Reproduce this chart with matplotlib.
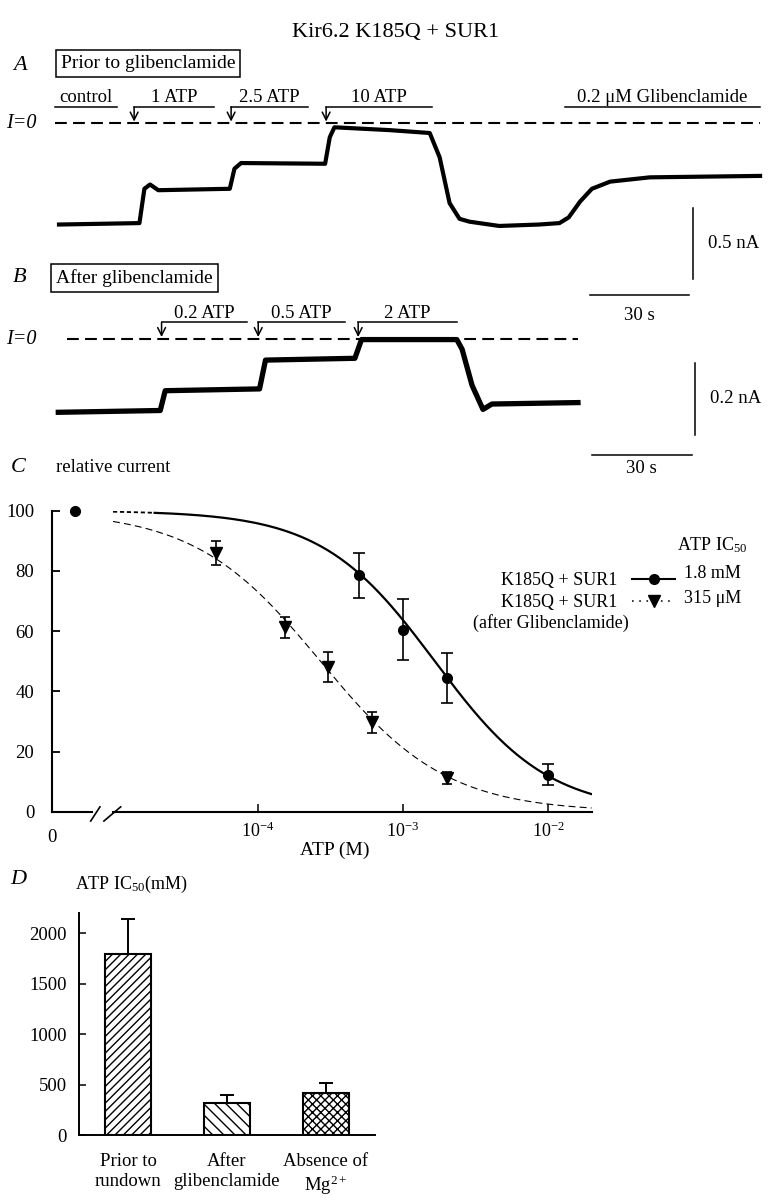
import numpy as np
import matplotlib
matplotlib.use('Agg')
import matplotlib.pyplot as plt
from matplotlib.lines import Line2D

plt.rcParams['font.family'] = 'Liberation Serif'
plt.rcParams['mathtext.fontset'] = 'custom'
plt.rcParams['mathtext.rm'] = 'Liberation Serif'
plt.rcParams['mathtext.it'] = 'Liberation Serif:italic'
plt.rcParams['lines.scale_dashes'] = False
plt.rcParams['hatch.linewidth'] = 1.0

# ---------------- data ----------------
# panel A: current trace (time s, current nA), prior to glibenclamide
trace_a_t = [0, 24.3, 25.8, 27.5, 30, 51.6, 53.0, 55.0, 80.4, 81.8, 83.2, 100, 112.0, 115.0,
             118.0, 121.0, 124.0, 133, 145, 151.2, 154, 157.4, 161, 166.5, 178.5, 211.8]
trace_a_i = [-0.71, -0.70, -0.46, -0.43, -0.47, -0.46, -0.32, -0.28, -0.285, -0.10, -0.03, -0.05,
             -0.07, -0.24, -0.56, -0.67, -0.69, -0.72, -0.71, -0.70, -0.66, -0.55, -0.46, -0.41,
             -0.38, -0.37]
sol_a_names = ['1 ATP', '2.5 ATP', '10 ATP']
sol_a_on = [22.7, 52.0, 80.7]
sol_a_off = [46.8, 75.2, 112.7]
ctrl_a = (-1.2, 17.5)
glib_a = (152.9, 211.8)

# panel B: current trace after glibenclamide
trace_b_t = [0, 30.8, 32.3, 60.8, 62.6, 89.6, 91.6, 120.4, 122, 125, 128.3, 131, 157]
trace_b_i = [-0.205, -0.20, -0.145, -0.14, -0.06, -0.055, -0.003, -0.003, -0.03, -0.13,
             -0.197, -0.182, -0.178]
sol_b_names = ['0.2 ATP', '0.5 ATP', '2 ATP']
sol_b_on = [31.2, 60.4, 90.6]
sol_b_off = [56.9, 86.6, 120.4]

scale_t = 30      # s
scale_a = 0.5     # nA
scale_b = 0.2     # nA

# panel C: dose response
atp_ctrl = 100
atp_c1 = [5e-4, 1e-3, 2e-3, 1e-2]
rel_c1 = [78.5, 60.5, 44.6, 12.4]
err_c1 = [7.5, 10.2, 8.3, 3.5]
atp_c2 = [5.1e-5, 1.53e-4, 3.05e-4, 6.1e-4, 2e-3]
rel_c2 = [86.0, 61.3, 48.2, 29.8, 11.3]
err_c2 = [4.0, 3.5, 4.9, 3.5, 2.1]
fit1_ic50, fit1_h = 1.66e-3, 1.11
fit2_ic50, fit2_h = 2.7e-4, 1.0

# panel D: IC50 bars (uM)
d_labels = ['Prior to\nrundown', 'After\nglibenclamide', 'Absence of\nMg$^{2+}$']
d_values = [1795, 315, 420]
d_errors = [345, 83, 93]
d_hatches = ['////', '\\\\\\', 'xxxx']

# ---------------- figure ----------------
W, H = 778, 1200
fig = plt.figure(figsize=(W / 100, H / 100), dpi=100)


def px_axes(x0, y0, x1, y1):
    return fig.add_axes([x0 / W, 1 - y1 / H, (x1 - x0) / W, (y1 - y0) / H])


def ftext(x, y, s, **kw):
    return fig.text(x / W, 1 - y / H, s, **kw)


def trace_axes(box, t0px, i0px, pps, ppn):
    x0, y0, x1, y1 = box
    ax = px_axes(*box)
    ax.set_xlim((x0 - t0px) / pps, (x1 - t0px) / pps)
    ax.set_ylim((i0px - y1) / ppn, (i0px - y0) / ppn)
    ax.axis('off')
    return ax


def solutions(ax, names, ons, offs, bar_i, tip_i, fs=13.5):
    for name, on, off in zip(names, ons, offs):
        ax.plot([on, off], [bar_i, bar_i], color='k', lw=1.1)
        ax.annotate('', xy=(on, tip_i), xytext=(on, bar_i),
                    arrowprops=dict(arrowstyle='->', lw=1.1, color='k', mutation_scale=14,
                                    shrinkA=0, shrinkB=0))
        ax.annotate(name, ((on + off) / 2, bar_i), xytext=(0, 0.5), textcoords='offset points',
                    ha='center', va='bottom', fontsize=fs)


ftext(396, 32, 'Kir6.2 K185Q + SUR1', ha='center', va='center', fontsize=16)

# ---- panel A
axA = trace_axes((0, 80, 778, 300), 59, 123, 3.31, 143)
axA.plot(trace_a_t, trace_a_i, color='k', lw=3.0, solid_joinstyle='round')
axA.plot([ctrl_a[0], glib_a[1]], [0, 0], color='k', lw=1.5, dashes=(8.5, 4.5))
solutions(axA, sol_a_names, sol_a_on, sol_a_off, 0.112, 0.01)
axA.plot(ctrl_a, [0.112, 0.112], color='k', lw=1.1)
axA.annotate('control', (sum(ctrl_a) / 2, 0.112), xytext=(0, 0.5), textcoords='offset points',
             ha='center', va='bottom', fontsize=13.5)
axA.plot(glib_a, [0.112, 0.112], color='k', lw=1.1)
axA.annotate('0.2 \u03bcM Glibenclamide', (sum(glib_a) / 2, 0.112), xytext=(0, 0.5),
             textcoords='offset points', ha='center', va='bottom', fontsize=13.5)
# scale bars
sb_t0 = 160.4
axA.plot([sb_t0, sb_t0 + scale_t], [-1.203, -1.203], color='k', lw=1.1)
axA.plot([191.5, 191.5], [-0.594, -0.594 - scale_a], color='k', lw=1.1)
axA.text(196, -0.594 - scale_a / 2, '%.1f nA' % scale_a, va='center', fontsize=13.5)
axA.text(sb_t0 + scale_t / 2, -1.345, '%d s' % scale_t, ha='center', va='center', fontsize=13.5)

ftext(20, 65, 'A', ha='center', va='center', fontsize=16, style='italic')
ftext(148, 63.5, 'Prior to glibenclamide', ha='center', va='center', fontsize=14,
      bbox=dict(boxstyle='square,pad=0.25', fc='white', ec='k', lw=1.1))
ftext(6, 123, 'I=0', va='center', fontsize=14.5, style='italic')

# ---- panel B
axB = trace_axes((0, 300, 778, 470), 58.3, 338.5, 3.31, 360)
axB.plot(trace_b_t, trace_b_i, color='k', lw=3.8, solid_joinstyle='round')
axB.plot([2.6, 157], [0, 0], color='k', lw=1.5, dashes=(8.5, 4.5))
solutions(axB, sol_b_names, sol_b_on, sol_b_off, 0.045, 0.004)
sb_tb = 161.3
axB.plot([sb_tb, sb_tb + scale_t], [-0.324, -0.324], color='k', lw=1.1)
axB.plot([192.3, 192.3], [-0.068, -0.068 - scale_b], color='k', lw=1.1)
axB.text(197, -0.068 - scale_b / 2, '%.1f nA' % scale_b, va='center', fontsize=13.5)
axB.text(sb_tb + scale_t / 2, -0.36, '%d s' % scale_t, ha='center', va='center', fontsize=13.5)

ftext(20, 278, 'B', ha='center', va='center', fontsize=16, style='italic')
ftext(134.5, 278, 'After glibenclamide', ha='center', va='center', fontsize=14,
      bbox=dict(boxstyle='square,pad=0.25', fc='white', ec='k', lw=1.1))
ftext(6, 340, 'I=0', va='center', fontsize=14.5, style='italic')

# ---- panel C
axL = px_axes(52.3, 510.7, 92, 812)
axM = px_axes(113, 510.7, 591.6, 812)
for ax in (axL, axM):
    ax.set_ylim(0, 100)
    ax.spines['top'].set_visible(False)
    ax.spines['right'].set_visible(False)
    ax.spines['bottom'].set_linewidth(1.5)
    ax.spines['left'].set_linewidth(1.5)
    ax.patch.set_alpha(0)
axL.set_xlim(0, 1)
axL.set_xticks([0])
axL.set_xticklabels(['0'])
axL.set_yticks(range(0, 101, 20))
axL.tick_params(axis='y', direction='in', length=6, width=1.3, pad=13, labelsize=13.5)
axL.tick_params(axis='x', length=0, pad=12, labelsize=13.5)
axL.plot([0.57], [atp_ctrl], 'o', color='k', ms=7, clip_on=False)

axM.spines['left'].set_visible(False)
axM.set_xscale('log')
axM.set_xlim(1e-5, 2e-2)
axM.set_yticks([])
axM.set_xticks([1e-4, 1e-3, 1e-2])
axM.set_xticklabels(['$10^{-4}$', '$10^{-3}$', '$10^{-2}$'])
axM.xaxis.set_minor_locator(matplotlib.ticker.NullLocator())
axM.tick_params(axis='x', direction='in', length=6, width=1.1, pad=7, labelsize=13)

xfit = np.logspace(-5, np.log10(2e-2), 300)
y1 = 100 / (1 + (xfit / fit1_ic50) ** fit1_h)
lead = xfit <= 1.9e-5
axM.plot(xfit[lead], y1[lead], color='k', lw=1.3, dashes=(3, 2))
axM.plot(xfit[~lead], y1[~lead], color='k', lw=1.6)
axM.plot(xfit, 100 / (1 + (xfit / fit2_ic50) ** fit2_h), color='k', lw=0.8, dashes=(5, 3))
axM.errorbar(atp_c1, rel_c1, yerr=err_c1, fmt='o', color='k', ms=7, capsize=4, elinewidth=1.2,
             capthick=1.2, clip_on=False)
axM.errorbar(atp_c2, rel_c2, yerr=err_c2, fmt='v', color='k', ms=8, capsize=3.5, elinewidth=1.2,
             capthick=1.2, clip_on=False)

# broken axis marks
kw = dict(color='k', lw=1.2, clip_on=False)
axL.plot([0.967, 1.2], [-0.03, 0.017], transform=axL.transAxes, **kw)
axM.plot([-0.019, 0.016], [-0.03, 0.017], transform=axM.transAxes, **kw)

ftext(335, 850, 'ATP (M)', ha='center', va='center', fontsize=14)
ftext(18, 467, 'C', ha='center', va='center', fontsize=16, style='italic')
ftext(56, 467, 'relative current', va='center', fontsize=13.5)

h1 = Line2D([], [], color='k', lw=1.5, marker='o', ms=7)
h2 = Line2D([], [], color='k', lw=1.1, ls=(0, (1.2, 4)), marker='v', ms=8)
axM.legend([h1, h2], ['K185Q + SUR1', 'K185Q + SUR1'], markerfirst=False, frameon=False,
           fontsize=13, handlelength=2.4, handletextpad=0.8, labelspacing=0.3, borderpad=0,
           loc='upper left', bbox_to_anchor=(492 / W, 1 - 563 / H), bbox_transform=fig.transFigure)
ftext(748, 545, 'ATP IC$_{50}$', ha='right', va='center', fontsize=13)
ftext(683.5, 574, '1.8 mM', va='center', fontsize=13)
ftext(683.5, 598.5, '315 \u03bcM', va='center', fontsize=13)
ftext(551, 623, '(after Glibenclamide)', ha='center', va='center', fontsize=13)

# ---- panel D
axD = px_axes(79, 913, 375, 1135)
xpos = np.arange(len(d_values))
bars = axD.bar(xpos, d_values, width=0.465, color='white', edgecolor='k', lw=1.5)
for b, hch in zip(bars, d_hatches):
    b.set_hatch(hch)
axD.errorbar(xpos, d_values, yerr=[np.zeros(len(d_errors)), d_errors], fmt='none', ecolor='k',
             capsize=5, elinewidth=1.4, capthick=1.4)
axD.set_xlim(-0.496, 2.5)
axD.set_ylim(0, 2200)
axD.set_yticks(range(0, 2001, 500))
axD.set_xticks(xpos)
axD.set_xticklabels(d_labels)
axD.spines['top'].set_visible(False)
axD.spines['right'].set_visible(False)
axD.spines['bottom'].set_linewidth(1.4)
axD.spines['left'].set_linewidth(1.4)
axD.tick_params(axis='y', direction='in', length=5, width=1.1, pad=9, labelsize=13.5)
axD.tick_params(axis='x', length=0, pad=13, labelsize=13.5)
ftext(18, 880, 'D', ha='center', va='center', fontsize=16, style='italic')
ftext(75, 884, 'ATP IC$_{50}$(mM)', va='center', fontsize=13)

fig.savefig('out.png', dpi=100)
